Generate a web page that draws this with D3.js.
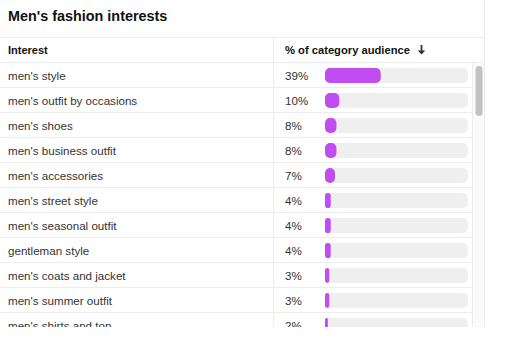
<!DOCTYPE html>
<html>
<head>
<meta charset="utf-8">
<script src="https://cdn.jsdelivr.net/npm/d3@7"></script>
<style>
  html, body { margin: 0; padding: 0; background: #fff; }
  svg { display: block; font-family: "Liberation Sans", Helvetica, Arial, sans-serif; }
</style>
</head>
<body>
<div id="chart"></div>
<script>
// data
const interests = [
    "men's style", "men's outfit by occasions", "men's shoes", "men's business outfit",
    "men's accessories", "men's street style", "men's seasonal outfit", "gentleman style",
    "men's coats and jacket", "men's summer outfit", "men's shirts and top"
];
const shares = [39, 10, 8, 8, 7, 4, 4, 4, 3, 3, 2];
const title = "Men's fashion interests";
const colHeaders = ["Interest", "% of category audience"];

const width = 512, height = 353;
const tableRight = 484.5, rowsRight = 472.5, clipBottom = 327;
const headerTop = 37.5, rowsTop = 62.5, rowH = 25;
const splitX = 273.5;

const svg = d3.select("#chart").append("svg")
    .attr("width", width)
    .attr("height", height);

svg.append("defs").append("clipPath").attr("id", "clip")
    .append("rect").attr("x", 0).attr("y", 0).attr("width", width).attr("height", clipBottom);

const g = svg.append("g").attr("clip-path", "url(#clip)");

// title
g.append("text")
    .attr("x", 8).attr("y", 21)
    .style("font-size", "14.4px").style("font-weight", "bold").style("fill", "#111")
    .text(title);

// scrollbar gutter
g.append("rect")
    .attr("x", rowsRight).attr("y", rowsTop)
    .attr("width", tableRight - rowsRight).attr("height", clipBottom - rowsTop)
    .attr("fill", "#fbfbfb");

// frame lines
const lineColor = "#ececec";
g.append("line").attr("x1", 0).attr("x2", tableRight).attr("y1", headerTop).attr("y2", headerTop).attr("stroke", lineColor);
g.append("line").attr("x1", 0).attr("x2", tableRight).attr("y1", rowsTop).attr("y2", rowsTop).attr("stroke", lineColor);
g.append("line").attr("x1", tableRight).attr("x2", tableRight).attr("y1", 0).attr("y2", clipBottom).attr("stroke", lineColor);
g.append("line").attr("x1", rowsRight).attr("x2", rowsRight).attr("y1", rowsTop).attr("y2", clipBottom).attr("stroke", lineColor);
g.append("line").attr("x1", splitX).attr("x2", splitX).attr("y1", headerTop).attr("y2", clipBottom).attr("stroke", lineColor);

// column headers
g.append("text")
    .attr("x", 8).attr("y", 54)
    .style("font-size", "11px").style("font-weight", "bold").style("fill", "#111")
    .text(colHeaders[0]);
g.append("text")
    .attr("x", 285).attr("y", 54)
    .style("font-size", "11.2px").style("font-weight", "bold").style("fill", "#111")
    .text(colHeaders[1]);

// sort arrow
const ax = 421.5, ay = 50;
g.append("path")
    .attr("d", `M${ax},${ay - 5}V${ay + 3}`)
    .attr("stroke", "#333").attr("stroke-width", 1.8);
g.append("path")
    .attr("d", `M${ax - 3.8},${ay + 0.5}L${ax},${ay + 4.5}L${ax + 3.8},${ay + 0.5}Z`)
    .attr("fill", "#333");

// scales
const y = d3.scaleBand()
    .domain(interests)
    .range([rowsTop, rowsTop + rowH * interests.length]);
const x = d3.scaleLinear().domain([0, 100]).range([0, 143]);
const barX = 325, barH = 15;

const rows = g.selectAll(".row").data(interests).join("g")
    .attr("class", "row")
    .attr("transform", d => "translate(0," + y(d) + ")");

rows.append("line")
    .attr("x1", 0).attr("x2", rowsRight)
    .attr("y1", rowH).attr("y2", rowH)
    .attr("stroke", lineColor);

rows.append("text")
    .attr("x", 8).attr("y", rowH / 2 + 5)
    .style("font-size", "11.6px").style("fill", "#333")
    .text(d => d);

rows.append("text")
    .attr("x", 285).attr("y", rowH / 2 + 5)
    .style("font-size", "11.6px").style("fill", "#333")
    .text((d, i) => shares[i] + "%");

rows.append("rect")
    .attr("x", barX).attr("y", rowH / 2 - barH / 2 + 0.5)
    .attr("width", x(100)).attr("height", barH)
    .attr("rx", 5).attr("fill", "#efefef");

rows.append("rect")
    .attr("x", barX).attr("y", rowH / 2 - barH / 2 + 0.5)
    .attr("width", (d, i) => x(shares[i])).attr("height", barH)
    .attr("rx", (d, i) => Math.min(5, x(shares[i]) / 2))
    .attr("fill", "#c04df0");

// scrollbar thumb
g.append("rect")
    .attr("x", 475.5).attr("y", 66).attr("width", 7).attr("height", 50)
    .attr("rx", 3.5).attr("fill", "#c2c2c2");
</script>
</body>
</html>
